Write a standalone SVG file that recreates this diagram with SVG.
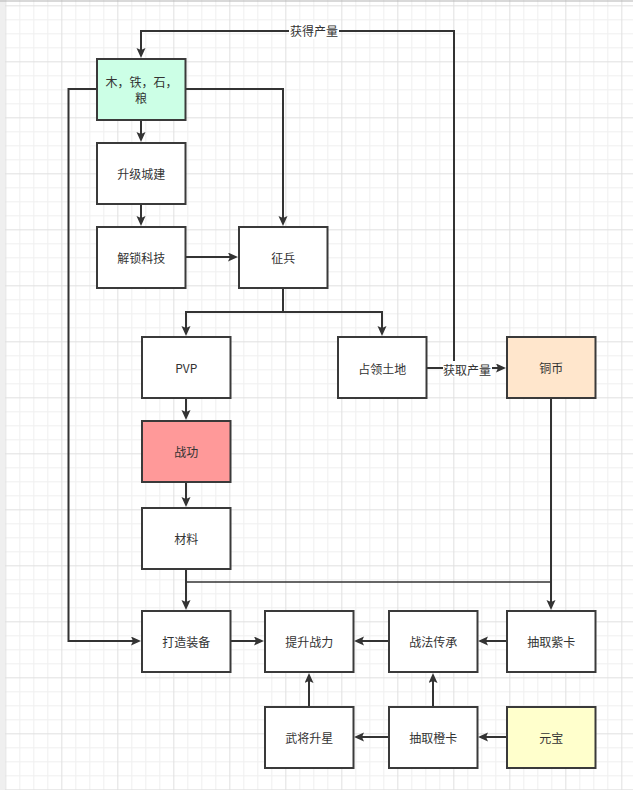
<svg xmlns="http://www.w3.org/2000/svg" width="633" height="790" viewBox="0 0 633 790">
<defs>
<pattern id="grid" patternUnits="userSpaceOnUse" x="5.33" y="5.33" width="56" height="56">
<path d="M14.5,0V56M28.5,0V56M42.5,0V56M0,14.5H56M0,28.5H56M0,42.5H56" stroke="#efefef" stroke-width="1" fill="none"/>
<path d="M0.5,0V56M0,0.5H56" stroke="#e0e0e0" stroke-width="1" fill="none"/>
</pattern>
<marker id="arr" markerUnits="userSpaceOnUse" markerWidth="12" markerHeight="10" refX="6" refY="4.5" orient="auto" viewBox="0 0 12 10">
<path d="M0,0 L10,4.5 L0,9 L2,4.5 z" fill="#333"/>
</marker>
</defs>
<style>
.node rect{stroke:#3a3a3a;stroke-width:2;}
.node text{font-family:"Noto Sans CJK SC","Liberation Sans",sans-serif;font-size:12px;fill:#333;text-anchor:middle;dominant-baseline:central;}
.edge{fill:none;stroke:#333;stroke-width:2;}
.thin{stroke-width:1.3;}
.lbl{font-family:"Noto Sans CJK SC","Liberation Sans",sans-serif;font-size:12px;fill:#333;text-anchor:middle;dominant-baseline:central;}
</style>
<rect width="633" height="790" fill="#ffffff"/>
<rect width="633" height="790" fill="url(#grid)"/>
<rect x="0" y="0" width="5" height="790" fill="#efefef"/>
<line x1="0" y1="1" x2="633" y2="1" stroke="#b4b4b4" stroke-width="1.2"/>

<g id="connectors">
<path class="edge" d="M427,368 L454,368 L454,31 L141,31 L141,54" marker-end="url(#arr)"/>
<path class="edge" d="M427,368 L502,368" marker-end="url(#arr)"/>
<path class="edge" d="M141,121 L141,138" marker-end="url(#arr)"/>
<path class="edge" d="M141,205 L141,222" marker-end="url(#arr)"/>
<path class="edge" d="M186,257 L234,257" marker-end="url(#arr)"/>
<path class="edge" d="M186,89 L283,89 L283,222" marker-end="url(#arr)"/>
<path class="edge" d="M96,89 L68.5,89 L68.5,641 L137,641" marker-end="url(#arr)"/>
<path class="edge" d="M283,289 L283,312 L186,312 L186,332" marker-end="url(#arr)"/>
<path class="edge" d="M283,312 L382,312 L382,332" marker-end="url(#arr)"/>
<path class="edge" d="M186,399 L186,416" marker-end="url(#arr)"/>
<path class="edge" d="M186,483 L186,503" marker-end="url(#arr)"/>
<path class="edge" d="M186,570 L186,606" marker-end="url(#arr)"/>
<path class="edge" d="M551,399 L551,606" marker-end="url(#arr)"/>
<path class="edge thin" d="M551,582 L186,582"/>
<path class="edge" d="M231,641 L260,641" marker-end="url(#arr)"/>
<path class="edge" d="M388,641 L358,641" marker-end="url(#arr)"/>
<path class="edge" d="M506,641 L482,641" marker-end="url(#arr)"/>
<path class="edge" d="M309,706 L309,677" marker-end="url(#arr)"/>
<path class="edge" d="M433,706 L433,677" marker-end="url(#arr)"/>
<path class="edge" d="M388,737 L358,737" marker-end="url(#arr)"/>
<path class="edge" d="M506,737 L482,737" marker-end="url(#arr)"/>
<rect x="289" y="23" width="50" height="16" fill="#ffffff"/>
<text class="lbl" x="314" y="30">获得产量</text>
<rect x="443" y="361" width="49" height="16" fill="#ffffff"/>
<text class="lbl" x="467" y="369">获取产量</text>
</g>

<g id="n-resources" class="node"><rect x="97" y="59" width="88.5" height="61" fill="#ccffe6"/><text x="141.5" y="81">木，铁，石，</text><text x="141" y="97">粮</text></g>
<g id="n-upgrade" class="node"><rect x="97" y="143" width="88.5" height="61" fill="#ffffff"/><text x="141.2" y="173.5">升级城建</text></g>
<g id="n-tech" class="node"><rect x="97" y="227" width="88.5" height="61" fill="#ffffff"/><text x="141.2" y="257.5">解锁科技</text></g>
<g id="n-recruit" class="node"><rect x="239" y="227" width="88.5" height="61" fill="#ffffff"/><text x="283.2" y="257.5">征兵</text></g>
<g id="n-pvp" class="node"><rect x="142" y="337" width="88.5" height="61" fill="#ffffff"/><text x="186.2" y="367.5">PVP</text></g>
<g id="n-land" class="node"><rect x="338" y="337" width="88.5" height="61" fill="#ffffff"/><text x="382.2" y="368.5">占领土地</text></g>
<g id="n-copper" class="node"><rect x="507" y="337" width="88.5" height="61" fill="#ffe6cc"/><text x="551.2" y="367.5">铜币</text></g>
<g id="n-merit" class="node"><rect x="142" y="421" width="88.5" height="61" fill="#ff9999"/><text x="186.2" y="451.5">战功</text></g>
<g id="n-material" class="node"><rect x="142" y="508" width="88.5" height="61" fill="#ffffff"/><text x="186.2" y="538.5">材料</text></g>
<g id="n-forge" class="node"><rect x="142" y="611" width="88.5" height="61" fill="#ffffff"/><text x="186.2" y="641.5">打造装备</text></g>
<g id="n-power" class="node"><rect x="265" y="611" width="88.5" height="61" fill="#ffffff"/><text x="309.2" y="641.5">提升战力</text></g>
<g id="n-inherit" class="node"><rect x="389" y="611" width="88.5" height="61" fill="#ffffff"/><text x="433.2" y="641.5">战法传承</text></g>
<g id="n-purple" class="node"><rect x="507" y="611" width="88.5" height="61" fill="#ffffff"/><text x="551.2" y="641.5">抽取紫卡</text></g>
<g id="n-star" class="node"><rect x="265" y="707" width="88.5" height="61" fill="#ffffff"/><text x="309.2" y="737.5">武将升星</text></g>
<g id="n-orange" class="node"><rect x="389" y="707" width="88.5" height="61" fill="#ffffff"/><text x="433.2" y="737.5">抽取橙卡</text></g>
<g id="n-yuanbao" class="node"><rect x="507" y="707" width="88.5" height="61" fill="#ffffcc"/><text x="551.2" y="737.5">元宝</text></g>
</svg>
